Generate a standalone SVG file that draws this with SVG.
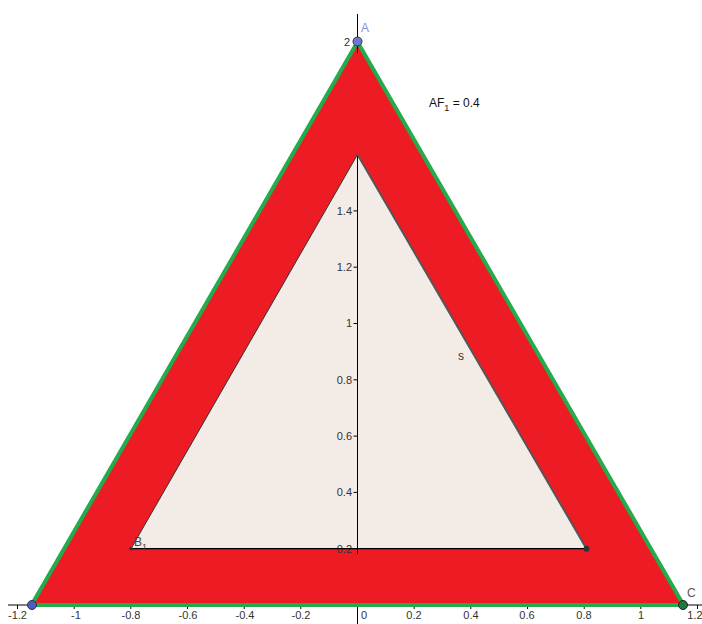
<svg xmlns="http://www.w3.org/2000/svg" width="702" height="624" viewBox="0 0 702 624">
<style>
.ax{stroke:#000;stroke-width:1;fill:none}
.tk{stroke:#000;stroke-width:1}
.tl{font-family:"Liberation Sans",Arial,sans-serif;font-size:11px;fill:#333}
.lbl{font-family:"Liberation Sans",Arial,sans-serif;font-size:12px}
</style>
<rect width="702" height="624" fill="#fff"/>
<g id="axes">
<line class="ax" x1="8" y1="605" x2="702" y2="605"/>
<line class="ax" x1="357.5" y1="14" x2="357.5" y2="624"/>
<g class="tk">
<line x1="17.5" y1="605" x2="17.5" y2="609"/><line x1="74.2" y1="605" x2="74.2" y2="609"/><line x1="130.8" y1="605" x2="130.8" y2="609"/><line x1="187.5" y1="605" x2="187.5" y2="609"/><line x1="244.2" y1="605" x2="244.2" y2="609"/><line x1="300.8" y1="605" x2="300.8" y2="609"/><line x1="414.2" y1="605" x2="414.2" y2="609"/><line x1="470.8" y1="605" x2="470.8" y2="609"/><line x1="527.5" y1="605" x2="527.5" y2="609"/><line x1="584.2" y1="605" x2="584.2" y2="609"/><line x1="640.8" y1="605" x2="640.8" y2="609"/><line x1="697.5" y1="605" x2="697.5" y2="609"/>
</g>
<g class="tl" text-anchor="middle">
<text x="17.5" y="619">-1.2</text><text x="76" y="619">-1</text><text x="131" y="619">-0.8</text><text x="188" y="619">-0.6</text><text x="245" y="619">-0.4</text><text x="301" y="619">-0.2</text><text x="364" y="619">0</text><text x="414" y="619">0.2</text><text x="471" y="619">0.4</text><text x="527" y="619">0.6</text><text x="584" y="619">0.8</text><text x="641" y="619">1</text><text x="695" y="619">1.2</text>
</g>
</g>
<g id="ring">
<polygon points="357.5,42 31.5,605 683.5,605" fill="#ed1c24"/>
</g>
<g id="inner">
<polygon points="357.5,154.6 131,548.7 586.5,548.7" fill="#f3ebe6"/>
<line x1="357.5" y1="154.6" x2="357.5" y2="554" stroke="#000" stroke-width="1"/>
<g class="tk">
<line x1="353.5" y1="548.7" x2="357.5" y2="548.7"/><line x1="353.5" y1="492.4" x2="357.5" y2="492.4"/><line x1="353.5" y1="436.1" x2="357.5" y2="436.1"/><line x1="353.5" y1="379.8" x2="357.5" y2="379.8"/><line x1="353.5" y1="323.5" x2="357.5" y2="323.5"/><line x1="353.5" y1="267.2" x2="357.5" y2="267.2"/><line x1="353.5" y1="210.9" x2="357.5" y2="210.9"/>
</g>
<g class="tl" text-anchor="end">
<text x="352" y="552.5">0.2</text><text x="352" y="496.2">0.4</text><text x="352" y="439.9">0.6</text><text x="352" y="383.6">0.8</text><text x="352" y="327.3">1</text><text x="352" y="271">1.2</text><text x="352" y="214.7">1.4</text>
</g>
<line x1="357.5" y1="154.6" x2="131" y2="548.7" stroke="#333" stroke-width="1"/>
<line x1="357.5" y1="154.6" x2="586.5" y2="548.7" stroke="#555" stroke-width="2"/>
<line x1="131" y1="548.7" x2="586.5" y2="548.7" stroke="#000" stroke-width="1.2"/>
<circle cx="131" cy="548.7" r="1.8" fill="#333"/>
<circle cx="586.5" cy="548.7" r="3" fill="#333"/>
<text class="lbl" x="134" y="546" fill="#444">B<tspan font-size="9" dy="4">1</tspan></text>
<text class="lbl" x="458" y="360" fill="#333">s</text>
</g>
<g id="outline">
<polygon points="357.5,42 31.5,605 683.5,605" fill="none" stroke="#22ac4c" stroke-width="4" stroke-linejoin="round"/>
</g>
<g id="pointA">
<text class="tl" x="350" y="46" text-anchor="end">2</text>
<line x1="353.5" y1="42" x2="357.5" y2="42" stroke="#000"/>
<line x1="357.5" y1="36" x2="357.5" y2="53" stroke="#000"/>
<circle cx="357.5" cy="41.5" r="4.5" fill="#6a78d8" stroke="#333" stroke-width="1"/>
<text class="lbl" x="361" y="32" fill="#8a8ee8" font-size="11">A</text>
</g>
<g id="pointB">
<circle cx="32" cy="605" r="4.5" fill="#4a5cc8" stroke="#333" stroke-width="1"/>
</g>
<g id="pointC">
<circle cx="683" cy="605" r="4.5" fill="#1f7a3a" stroke="#222" stroke-width="1"/>
<text class="lbl" x="687" y="597" fill="#555" font-size="11">C</text>
</g>
<g id="label">
<text class="lbl" x="429" y="107" fill="#111">AF<tspan font-size="9" dy="4">1</tspan><tspan dy="-4"> = 0.4</tspan></text>
</g>
</svg>
